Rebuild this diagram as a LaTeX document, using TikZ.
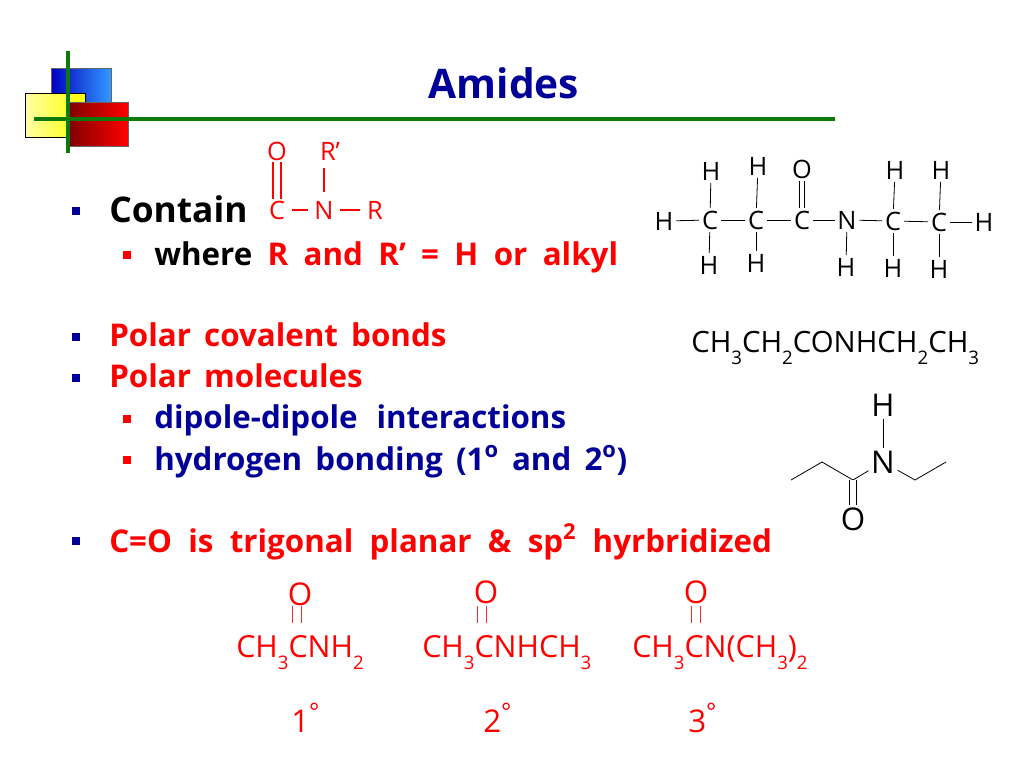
\documentclass[tikz,border=0pt]{standalone}
\usepackage{fontspec}
\setmainfont{Open Sans}
\definecolor{slideblue}{HTML}{000099}
\definecolor{slidegreen}{HTML}{0B7A0B}
\newcommand{\lowsub}[1]{\raisebox{-0.42em}{\fontsize{14}{15}\selectfont #1}}
\newcommand{\degmark}{\raisebox{0.36em}{\fontsize{18}{19}\selectfont °}}
\newcommand{\gapspace}[1]{\spaceskip=#1\relax}
\tikzset{
  bigline/.style={anchor=base west,inner sep=0pt,font=\fontsize{26.5}{30}\selectfont\bfseries},
  subline/.style={anchor=base west,inner sep=0pt,font=\fontsize{23.5}{26}\selectfont\bfseries\gapspace{#1}},
  subline/.default=0.42em,
  atom/.style={inner sep=1pt,font=\fontsize{19}{22}\selectfont},
  bigatom/.style={inner sep=1pt,font=\fontsize{23.5}{26}\selectfont},
  formula/.style={anchor=base west,inner sep=0pt,font=\fontsize{22.8}{24}\selectfont,text=red},
  degree/.style={anchor=base west,inner sep=0pt,font=\fontsize{23.5}{26}\selectfont,text=red},
  bond/.style={line width=0.6pt,shorten >=1pt,shorten <=1pt},
  redbond/.style={red,line width=1.3pt},
  carbonyl/.style={red!85,line width=0.7pt,double distance=6pt},
  bullet/.style={fill=#1,minimum size=6pt,inner sep=0pt},
  subbullet/.style={fill=#1,minimum size=5.5pt,inner sep=0pt}
}
\begin{document}
\begin{tikzpicture}[x=0.75pt,y=-0.75pt]
  \useasboundingbox (0,0) rectangle (1024,768);
  \shade[left color=blue!75!black,right color={rgb,255:red,51;green,153;blue,255},draw=black!60,line width=0.5pt] (51,68) rectangle (111,112);
  \shade[left color=yellow!35,right color=yellow,draw=black,line width=0.5pt] (25,93) rectangle (85,137);
  \shade[left color=red!50!black,right color=red,draw=black!60,line width=0.5pt] (68,102) rectangle (128,146);
  \coordinate (vtop) at (68,51);
  \coordinate (vbot) at (68,153);
  \coordinate (hleft) at (34,119);
  \coordinate (hright) at (835,119);
  \draw[slidegreen,line width=3pt] (vtop) -- (vbot);
  \draw[slidegreen,line width=3pt] (hleft) -- (hright);
  \node[anchor=base,inner sep=0pt,text=slideblue,font=\fontsize{30.5}{34}\selectfont\bfseries] (title) at (504,98) {Amides};

  \node[bullet=slideblue] (b1) at (76,211) {};
  \node[bigline] (contain) at (109,222) {Contain};
  \node[subbullet=red] (b2) at (127,255) {};
  \node[subline=0.49em] (where) at (154,265) {where \textcolor{red}{R and R’ = H or alkyl}};
  \node[bullet=slideblue] (b3) at (76,337) {};
  \node[subline,text=red] (polar) at (109,346) {Polar covalent bonds};
  \node[bullet=slideblue] (b4) at (76,378) {};
  \node[subline,text=red] (molec) at (109,387) {Polar molecules};
  \node[subbullet=red] (b5) at (127,419) {};
  \node[subline=0.6em,text=slideblue] (dipole) at (154,428) {dipole-dipole interactions};
  \node[subbullet=red] (b6) at (127,460) {};
  \node[subline,text=slideblue] (hbond) at (154,470) {hydrogen bonding (1\textsuperscript{o} and 2\textsuperscript{o})};
  \node[bullet=slideblue] (b7) at (76,541) {};
  \node[subline=0.52em,text=red] (trig) at (109,552) {C=O is trigonal planar \& sp\textsuperscript{2} hyrbridized};

  \node[atom,text=red] (ro) at (277,151) {O};
  \node[atom,text=red] (rr) at (330,151) {R'};
  \node[atom,text=red] (rc) at (277,210) {C};
  \node[atom,text=red] (rn) at (324,210) {N};
  \node[atom,text=red] (rr2) at (375,210) {R};
  \coordinate (rrb) at (324,168);
  \coordinate (rnb) at (324,192);
  \draw[redbond,double distance=4.5pt] (ro) -- (rc);
  \draw[redbond] (rrb) -- (rnb);
  \draw[redbond,shorten >=4pt,shorten <=4pt] (rc) -- (rn);
  \draw[redbond,shorten >=4pt,shorten <=4pt] (rn) -- (rr2);

  \node[atom] (h1) at (664,221) {H};
  \node[atom] (c1) at (710,220) {C};
  \node[atom] (c2) at (756,220) {C};
  \node[atom] (c3) at (802,220) {C};
  \node[atom] (n) at (847,220) {N};
  \node[atom] (c4) at (893,221) {C};
  \node[atom] (c5) at (939,222) {C};
  \node[atom] (h2) at (984,222) {H};
  \node[atom] (h3) at (711,171) {H};
  \node[atom] (h4) at (758,166) {H};
  \node[atom] (o1) at (802,169) {O};
  \node[atom] (h5) at (895,170) {H};
  \node[atom] (h6) at (941,170) {H};
  \node[atom] (h7) at (709,265) {H};
  \node[atom] (h8) at (756,263) {H};
  \node[atom] (h9) at (846,267) {H};
  \node[atom] (h10) at (893,268) {H};
  \node[atom] (h11) at (939,269) {H};
  \draw[bond] (h1) -- (c1);
  \draw[bond] (c1) -- (c2);
  \draw[bond] (c2) -- (c3);
  \draw[bond] (c3) -- (n);
  \draw[bond] (n) -- (c4);
  \draw[bond] (c4) -- (c5);
  \draw[bond] (c5) -- (h2);
  \draw[bond] (c1) -- (h3);
  \draw[bond] (c2) -- (h4);
  \draw[bond,double distance=3.5pt] (c3) -- (o1);
  \draw[bond] (c4) -- (h5);
  \draw[bond] (c5) -- (h6);
  \draw[bond] (c1) -- (h7);
  \draw[bond] (c2) -- (h8);
  \draw[bond] (n) -- (h9);
  \draw[bond] (c4) -- (h10);
  \draw[bond] (c5) -- (h11);

  \node[formula,text=black,font=\fontsize{22}{24}\selectfont] (cond) at (691,352) {CH\lowsub{3}CH\lowsub{2}CONHCH\lowsub{2}CH\lowsub{3}};

  \node[bigatom] (sh) at (883,405) {H};
  \node[bigatom] (sn) at (883,462) {N};
  \node[bigatom] (so) at (853,519) {O};
  \coordinate (s1) at (791,480);
  \coordinate (s2) at (822,462);
  \coordinate (s3) at (853,480);
  \coordinate (s4) at (915,480);
  \coordinate (s5) at (946,462);
  \draw[bond,shorten >=0pt,shorten <=0pt] (s1) -- (s2);
  \draw[bond,shorten >=0pt,shorten <=0pt] (s2) -- (s3);
  \draw[bond,shorten <=0pt] (s3) -- (sn);
  \draw[bond,shorten >=0pt] (sn) -- (s4);
  \draw[bond,shorten >=0pt,shorten <=0pt] (s4) -- (s5);
  \draw[bond] (sh) -- (sn);
  \draw[bond,shorten <=0pt,double distance=5pt] (s3) -- (so);

  \node[formula] (f1) at (236,657) {CH\lowsub{3}CNH\lowsub{2}};
  \node[formula] (f2) at (422,657) {CH\lowsub{3}CNHCH\lowsub{3}};
  \node[formula] (f3) at (632,657) {CH\lowsub{3}CN(CH\lowsub{3})\lowsub{2}};
  \node[bigatom,text=red] (o2) at (300,594) {O};
  \node[bigatom,text=red] (o3) at (486,592) {O};
  \node[bigatom,text=red] (o4) at (696,592) {O};
  \coordinate (o2b) at (297,606);
  \coordinate (o3b) at (482,606);
  \coordinate (o4b) at (696,606);
  \coordinate (c6) at (297,623);
  \coordinate (c7) at (482,623);
  \coordinate (c8) at (696,623);
  \draw[carbonyl] (o2b) -- (c6);
  \draw[carbonyl] (o3b) -- (c7);
  \draw[carbonyl] (o4b) -- (c8);
  \node[degree] (d1) at (291,732) {1\degmark};
  \node[degree] (d2) at (483,732) {2\degmark};
  \node[degree] (d3) at (688,732) {3\degmark};
\end{tikzpicture}
\end{document}
